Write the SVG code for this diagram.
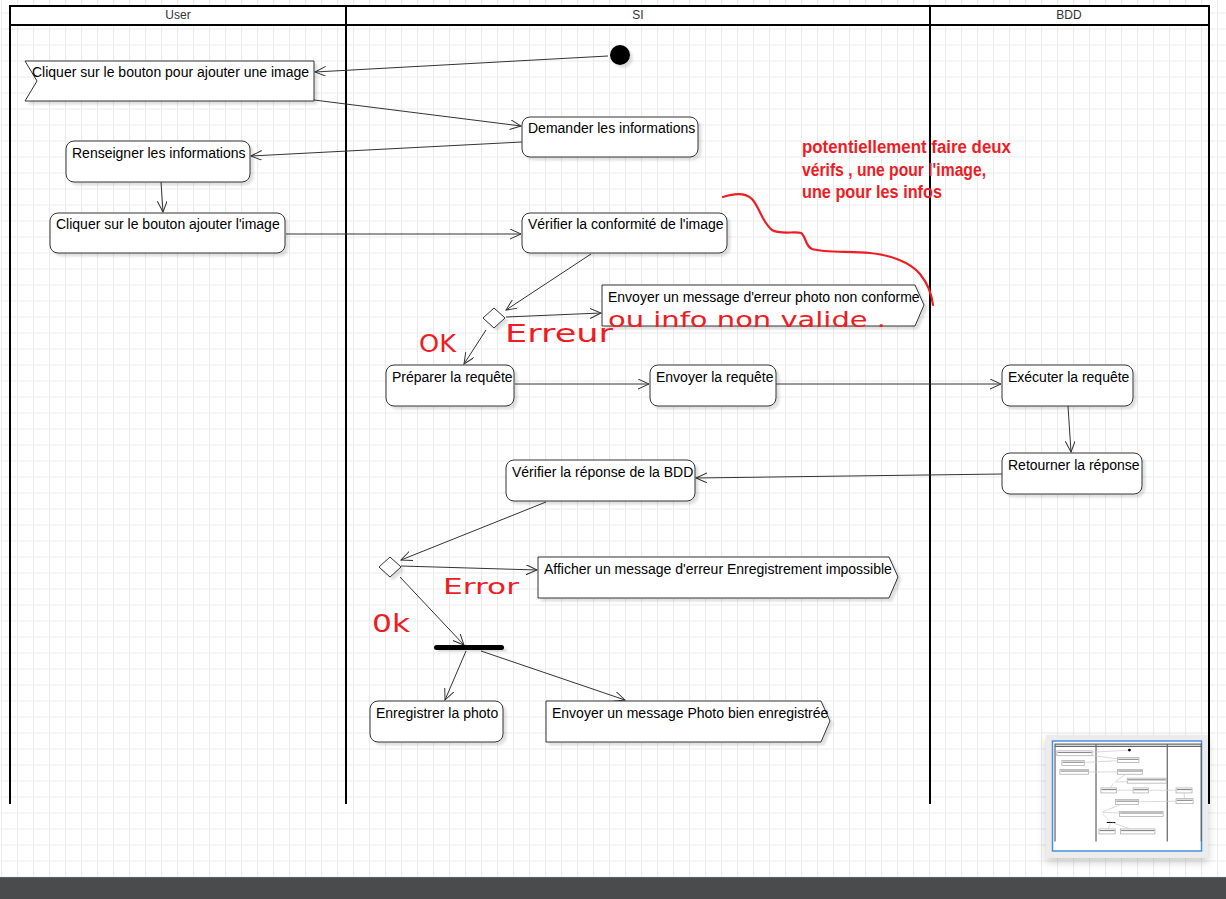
<svg xmlns="http://www.w3.org/2000/svg" width="1226" height="899" viewBox="0 0 1226 899">
<defs>
<pattern id="grid" x="1" y="12.5" width="16" height="16" patternUnits="userSpaceOnUse">
<path d="M0 0.5 H16 M0.5 0 V16" stroke="#ebebeb" stroke-width="1.2" fill="none"/>
</pattern>
<marker id="arr" markerUnits="userSpaceOnUse" markerWidth="14" markerHeight="12" refX="11" refY="5" orient="auto">
<path d="M0 0 L11 5 L0 10" fill="none" stroke="#333" stroke-width="1"/>
</marker>
<filter id="sh" x="-10%" y="-10%" width="130%" height="140%">
<feDropShadow dx="3" dy="3" stdDeviation="1.2" flood-color="#000" flood-opacity="0.12"/>
</filter>
<filter id="sh2" x="-10%" y="-10%" width="130%" height="140%">
<feDropShadow dx="0" dy="4" stdDeviation="4" flood-color="#000" flood-opacity="0.2"/>
</filter>
</defs>
<style>
.node{fill:#fff;stroke:#333;stroke-width:1;filter:url(#sh)}
.lbl{font-family:"Liberation Sans",Arial,sans-serif;font-size:14px;fill:#000}
.hdr{font-family:"Liberation Sans",Arial,sans-serif;font-size:12px;fill:#333;text-anchor:middle}
.lane{stroke:#000;stroke-width:2;fill:none}
.conn line,.conn path{stroke:#333;stroke-width:1;fill:none;marker-end:url(#arr)}
.hand{font-family:"DejaVu Sans","Liberation Sans",sans-serif;fill:#ee1c24}
.note{font-family:"Liberation Sans Narrow","Liberation Sans",Arial,sans-serif;font-weight:bold;font-stretch:condensed;font-size:18px;fill:#ee1c24}
.thumb rect.n{fill:#fff;stroke:#aaa;stroke-width:6}
.thumb rect.t{fill:#888}
</style>
<rect x="0" y="0" width="1226" height="899" fill="#fff"/>
<rect x="0" y="0" width="1226" height="878" fill="url(#grid)"/>

<g id="swimlanes">
<rect x="10" y="6" width="1199" height="19" fill="#fff"/>
<path class="lane" d="M10 804 V6 H1209 V804 M10 25 H1209 M346 6 V804 M930 6 V804"/>
<text class="hdr" x="178" y="19">User</text>
<text class="hdr" x="638" y="19">SI</text>
<text class="hdr" x="1069" y="19">BDD</text>
</g>

<g id="connectors" class="conn">
<line x1="608" y1="56" x2="315" y2="72"/>
<line x1="314" y1="100" x2="521" y2="126"/>
<line x1="522" y1="142" x2="251" y2="156"/>
<line x1="161" y1="182" x2="163" y2="212"/>
<line x1="286" y1="234" x2="521" y2="234"/>
<line x1="591" y1="254" x2="506" y2="310"/>
<line x1="506" y1="317" x2="601" y2="313"/>
<line x1="486" y1="330" x2="464" y2="364"/>
<line x1="515" y1="384" x2="649" y2="384"/>
<line x1="776" y1="384" x2="1001" y2="384"/>
<line x1="1068" y1="406" x2="1071" y2="452"/>
<line x1="1002" y1="474" x2="696" y2="478"/>
<line x1="546" y1="502" x2="401" y2="560"/>
<line x1="401" y1="566" x2="537" y2="570"/>
<line x1="400" y1="577" x2="464" y2="645"/>
<line x1="466" y1="651" x2="445" y2="700"/>
<line x1="481" y1="651" x2="625" y2="700"/>
</g>

<g id="n-start"><circle cx="620" cy="55" r="10" fill="#000" filter="url(#sh)"/></g>

<g id="n-cliquer-pour">
<path class="node" d="M25 61 H314 V101 H25 L37 81 Z"/>
<text class="lbl" x="32" y="77">Cliquer sur le bouton pour ajouter une image</text>
</g>
<g id="n-demander">
<rect class="node" x="522" y="117" width="176" height="40" rx="8"/>
<text class="lbl" x="528" y="133">Demander les informations</text>
</g>
<g id="n-renseigner">
<rect class="node" x="66" y="141" width="184" height="41" rx="8"/>
<text class="lbl" x="72" y="158">Renseigner les informations</text>
</g>
<g id="n-cliquer-ajouter">
<rect class="node" x="50" y="213" width="235" height="40" rx="8"/>
<text class="lbl" x="56" y="229">Cliquer sur le bouton ajouter l'image</text>
</g>
<g id="n-verifier-conf">
<rect class="node" x="522" y="213" width="205" height="40" rx="8"/>
<text class="lbl" x="528" y="229">Vérifier la conformité de l'image</text>
</g>
<g id="n-decision1">
<path class="node" d="M483 318 L494 308 L505 318 L494 328 Z"/>
</g>
<g id="n-erreur-photo">
<path class="node" d="M602 285 H915 L924 305 L915 326 H602 Z"/>
<text class="lbl" x="608" y="302">Envoyer un message d'erreur photo non conforme</text>
</g>
<g id="n-preparer">
<rect class="node" x="386" y="365" width="128" height="41" rx="8"/>
<text class="lbl" x="392" y="382">Préparer la requête</text>
</g>
<g id="n-envoyer">
<rect class="node" x="650" y="365" width="126" height="41" rx="8"/>
<text class="lbl" x="656" y="382">Envoyer la requête</text>
</g>
<g id="n-executer">
<rect class="node" x="1002" y="365" width="131" height="41" rx="8"/>
<text class="lbl" x="1008" y="382">Exécuter la requête</text>
</g>
<g id="n-retourner">
<rect class="node" x="1002" y="453" width="140" height="41" rx="8"/>
<text class="lbl" x="1008" y="470">Retourner la réponse</text>
</g>
<g id="n-verifier-bdd">
<rect class="node" x="506" y="460" width="189" height="41" rx="8"/>
<text class="lbl" x="512" y="477">Vérifier la réponse de la BDD</text>
</g>
<g id="n-decision2">
<path class="node" d="M379 567 L390 557 L401 567 L390 577 Z"/>
</g>
<g id="n-afficher-erreur">
<path class="node" d="M538 557 H889 L898 577 L889 598 H538 Z"/>
<text class="lbl" x="544" y="574">Afficher un message d'erreur Enregistrement impossible</text>
</g>
<g id="n-fork">
<rect x="434" y="645" width="70" height="5" rx="2.5" fill="#000" filter="url(#sh)"/>
</g>
<g id="n-enregistrer">
<rect class="node" x="370" y="701" width="133" height="41" rx="8"/>
<text class="lbl" x="376" y="718">Enregistrer la photo</text>
</g>
<g id="n-photo-ok">
<path class="node" d="M546 701 H821 L830 721 L821 742 H546 Z"/>
<text class="lbl" x="552" y="718">Envoyer un message Photo bien enregistrée</text>
</g>

<g id="annotations">
<path d="M723 197 C732 194 745 192 752 199 C760 208 762 222 772 230 C780 235 795 231 801 233 C806 236 805 246 812 249 C825 253 850 251 870 253 C890 255 910 262 920 274 C928 284 932 296 933 305" fill="none" stroke="#ee1c24" stroke-width="2.2" stroke-linecap="round"/>
<text class="note" x="802" y="153" textLength="209" lengthAdjust="spacingAndGlyphs">potentiellement faire deux</text>
<text class="note" x="802" y="176" textLength="184" lengthAdjust="spacingAndGlyphs">vérifs , une pour l'image,</text>
<text class="note" x="802" y="198" textLength="140" lengthAdjust="spacingAndGlyphs">une pour les infos</text>
<text class="hand" x="419" y="352" font-size="24" textLength="37" lengthAdjust="spacingAndGlyphs">OK</text>
<text class="hand" x="505" y="342" font-size="24" textLength="108" lengthAdjust="spacingAndGlyphs">Erreur</text>
<text class="hand" x="608" y="327" font-size="22" textLength="278" lengthAdjust="spacingAndGlyphs">ou info non valide .</text>
<text class="hand" x="443" y="594" font-size="22" textLength="76" lengthAdjust="spacingAndGlyphs">Error</text>
<text class="hand" x="372" y="632" font-size="24" textLength="38" lengthAdjust="spacingAndGlyphs">0k</text>
</g>

<g id="minimap">
<rect x="1046" y="735" width="162" height="123" fill="#ececec" filter="url(#sh2)"/>
<rect x="1052.5" y="741" width="149" height="110" fill="#fff" stroke="#4a90e2" stroke-width="1.5"/>
<g class="thumb" transform="translate(1053.8,743.4) scale(0.122)">
<path d="M10 804 V6 H1209 V804 M10 25 H1209 M346 6 V804 M930 6 V804" fill="none" stroke="#666" stroke-width="10"/>
<circle cx="620" cy="55" r="12" fill="#000"/>
<rect class="n" x="25" y="61" width="289" height="40"/><rect class="t" x="32" y="70" width="278" height="9"/>
<rect class="n" x="522" y="117" width="176" height="40"/><rect class="t" x="528" y="126" width="166" height="9"/>
<rect class="n" x="66" y="141" width="184" height="41"/><rect class="t" x="72" y="150" width="174" height="9"/>
<rect class="n" x="50" y="213" width="235" height="40"/><rect class="t" x="56" y="222" width="225" height="9"/>
<rect class="n" x="522" y="213" width="205" height="40"/><rect class="t" x="528" y="222" width="195" height="9"/>
<rect class="n" x="602" y="285" width="320" height="41"/><rect class="t" x="608" y="294" width="310" height="9"/>
<rect class="n" x="386" y="365" width="128" height="41"/><rect class="t" x="392" y="374" width="118" height="9"/>
<rect class="n" x="650" y="365" width="126" height="41"/><rect class="t" x="656" y="374" width="116" height="9"/>
<rect class="n" x="1002" y="365" width="131" height="41"/><rect class="t" x="1008" y="374" width="121" height="9"/>
<rect class="n" x="1002" y="453" width="140" height="41"/><rect class="t" x="1008" y="462" width="130" height="9"/>
<rect class="n" x="506" y="460" width="189" height="41"/><rect class="t" x="512" y="469" width="179" height="9"/>
<rect class="n" x="538" y="557" width="358" height="41"/><rect class="t" x="544" y="566" width="348" height="9"/>
<rect x="434" y="644" width="70" height="8" fill="#000"/>
<rect class="n" x="370" y="701" width="133" height="41"/><rect class="t" x="376" y="710" width="123" height="9"/>
<rect class="n" x="546" y="701" width="283" height="41"/><rect class="t" x="552" y="710" width="273" height="9"/>
<path d="M608 56 L315 72 M314 100 L521 126 M522 142 L251 156 M286 234 L521 234 M591 254 L506 310 M506 317 L601 313 M486 330 L464 364 M515 384 L1001 384 M1068 406 L1071 452 M1002 474 L696 478 M546 502 L401 560 M401 566 L537 570 M400 577 L464 645 M466 651 L445 700 M481 651 L625 700" stroke="#ccc" stroke-width="6" fill="none"/>
</g>
</g>

<rect x="0" y="877" width="1226" height="22" fill="#4a4b4d"/>
<rect x="0" y="877" width="1226" height="1" fill="#5e5f61"/>
</svg>
